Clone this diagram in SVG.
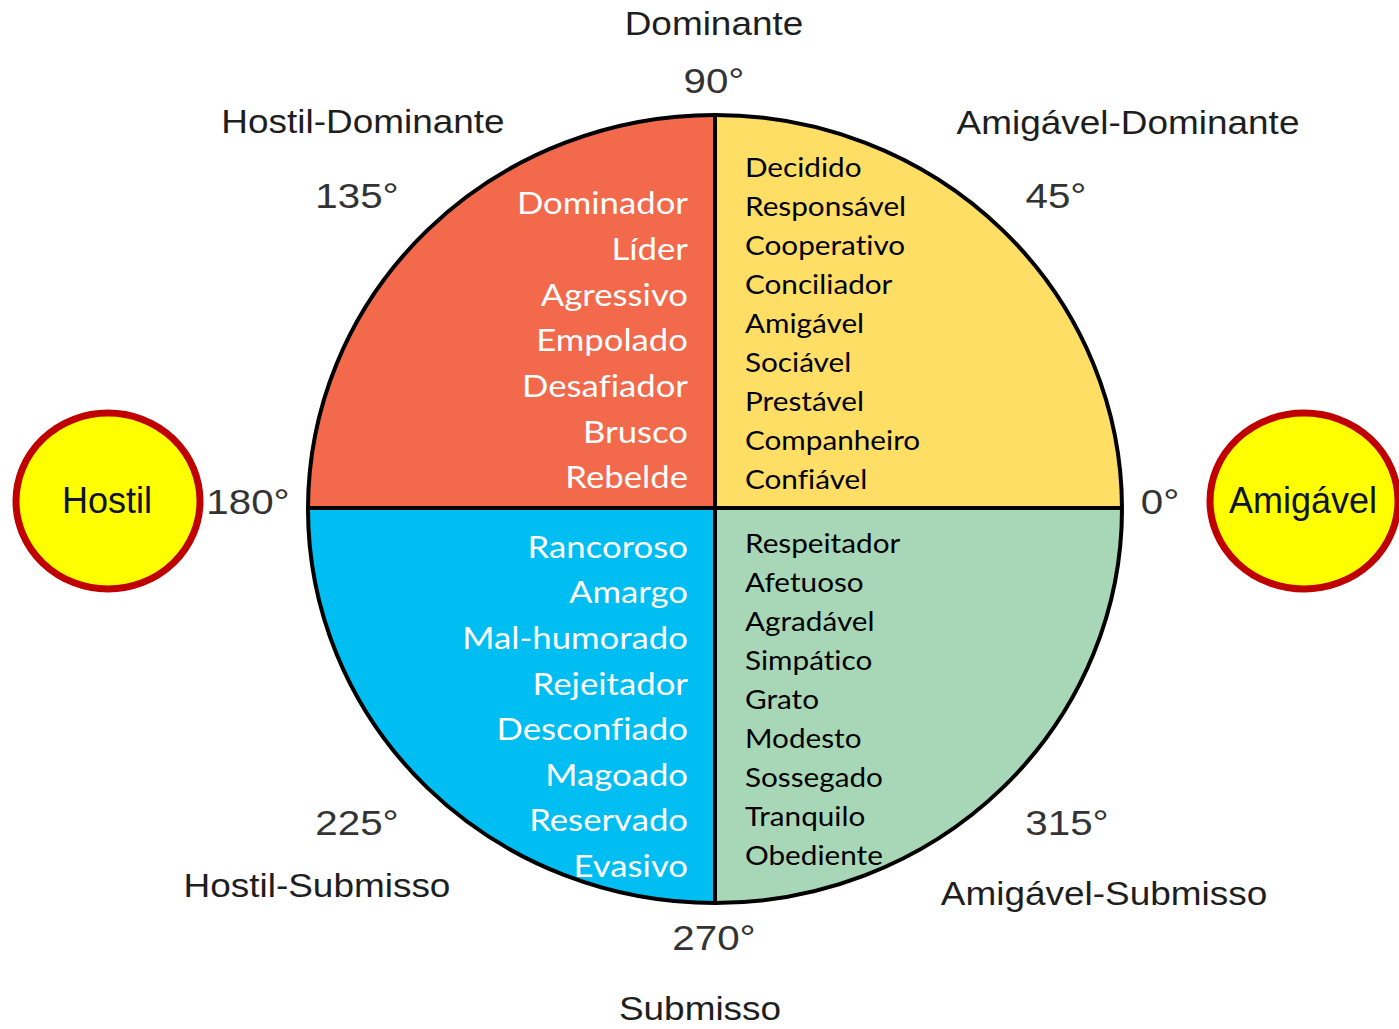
<svg xmlns="http://www.w3.org/2000/svg" width="1399" height="1029" viewBox="0 0 1399 1029">
<style>
.lbl{font-family:"Liberation Sans",Arial,sans-serif;font-size:33px;fill:#1e1e1e;text-anchor:middle}
.deg{font-family:"Liberation Sans",Arial,sans-serif;font-size:36px;fill:#333;text-anchor:middle}
.big{font-family:"Liberation Sans",Arial,sans-serif;font-size:36px;fill:#0f1230;text-anchor:middle}
.w{font-family:Lato,"Open Sans",sans-serif;font-size:31px;fill:#fff;text-anchor:end;font-variant-ligatures:none}
.b{font-family:Lato,"Open Sans",sans-serif;font-size:27px;fill:#000;text-anchor:start;font-variant-ligatures:none}
.edge{stroke:#000;stroke-width:4;fill:none}
.pole{fill:#ffff00;stroke:#c00000;stroke-width:7}
</style>
<rect width="1399" height="1029" fill="#fff"/>
<defs>
<clipPath id="c"><ellipse cx="715" cy="509" rx="407" ry="394"/></clipPath>
</defs>
<g id="wheel">
<g clip-path="url(#c)">
<rect x="300" y="100" width="415" height="409" fill="#f2694b"/>
<rect x="715" y="100" width="420" height="409" fill="#ffde66"/>
<rect x="300" y="509" width="415" height="410" fill="#00bdf2"/>
<rect x="715" y="509" width="420" height="410" fill="#a8d7b7"/>
</g>
</g>
<g id="connectors">
<ellipse class="edge" cx="715" cy="509" rx="407" ry="394"/>
<line class="edge" x1="715" y1="115" x2="715" y2="903"/>
<line class="edge" x1="308" y1="508" x2="1122" y2="508"/>
</g>
<g id="q-hostil-dominante">
<text class="w" transform="translate(688 214) scale(1.12 1)">Dominador</text>
<text class="w" transform="translate(688 260) scale(1.12 1)">Líder</text>
<text class="w" transform="translate(688 306) scale(1.12 1)">Agressivo</text>
<text class="w" transform="translate(688 351) scale(1.12 1)">Empolado</text>
<text class="w" transform="translate(688 397) scale(1.12 1)">Desafiador</text>
<text class="w" transform="translate(688 443) scale(1.12 1)">Brusco</text>
<text class="w" transform="translate(688 488) scale(1.12 1)">Rebelde</text>
</g>
<g id="q-amigavel-dominante">
<text class="b" transform="translate(745 177) scale(1.1 1)">Decidido</text>
<text class="b" transform="translate(745 216) scale(1.1 1)">Responsável</text>
<text class="b" transform="translate(745 255) scale(1.1 1)">Cooperativo</text>
<text class="b" transform="translate(745 294) scale(1.1 1)">Conciliador</text>
<text class="b" transform="translate(745 333) scale(1.1 1)">Amigável</text>
<text class="b" transform="translate(745 372) scale(1.1 1)">Sociável</text>
<text class="b" transform="translate(745 411) scale(1.1 1)">Prestável</text>
<text class="b" transform="translate(745 450) scale(1.1 1)">Companheiro</text>
<text class="b" transform="translate(745 489) scale(1.1 1)">Confiável</text>
</g>
<g id="q-hostil-submisso">
<text class="w" transform="translate(688 558) scale(1.12 1)">Rancoroso</text>
<text class="w" transform="translate(688 603) scale(1.12 1)">Amargo</text>
<text class="w" transform="translate(688 649) scale(1.12 1)">Mal-humorado</text>
<text class="w" transform="translate(688 695) scale(1.12 1)">Rejeitador</text>
<text class="w" transform="translate(688 740) scale(1.12 1)">Desconfiado</text>
<text class="w" transform="translate(688 786) scale(1.12 1)">Magoado</text>
<text class="w" transform="translate(688 831) scale(1.12 1)">Reservado</text>
<text class="w" transform="translate(688 877) scale(1.12 1)">Evasivo</text>
</g>
<g id="q-amigavel-submisso">
<text class="b" transform="translate(745 553) scale(1.1 1)">Respeitador</text>
<text class="b" transform="translate(745 592) scale(1.1 1)">Afetuoso</text>
<text class="b" transform="translate(745 631) scale(1.1 1)">Agradável</text>
<text class="b" transform="translate(745 670) scale(1.1 1)">Simpático</text>
<text class="b" transform="translate(745 709) scale(1.1 1)">Grato</text>
<text class="b" transform="translate(745 748) scale(1.1 1)">Modesto</text>
<text class="b" transform="translate(745 787) scale(1.1 1)">Sossegado</text>
<text class="b" transform="translate(745 826) scale(1.1 1)">Tranquilo</text>
<text class="b" transform="translate(745 865) scale(1.1 1)">Obediente</text>
</g>
<g id="labels">
<text class="lbl" transform="translate(714 35) scale(1.12 1)">Dominante</text>
<text class="deg" transform="translate(714 93) scale(1.12 1)">90°</text>
<text class="lbl" transform="translate(363 133) scale(1.12 1)">Hostil-Dominante</text>
<text class="lbl" transform="translate(1128 134) scale(1.12 1)">Amigável-Dominante</text>
<text class="deg" transform="translate(357 208) scale(1.12 1)">135°</text>
<text class="deg" transform="translate(1056 208) scale(1.12 1)">45°</text>
<text class="deg" transform="translate(248 514) scale(1.12 1)">180°</text>
<text class="deg" transform="translate(1160 514) scale(1.12 1)">0°</text>
<text class="deg" transform="translate(357 835) scale(1.12 1)">225°</text>
<text class="deg" transform="translate(1067 835) scale(1.12 1)">315°</text>
<text class="lbl" transform="translate(317 897) scale(1.12 1)">Hostil-Submisso</text>
<text class="deg" transform="translate(714 950) scale(1.12 1)">270°</text>
<text class="lbl" transform="translate(1104 905) scale(1.12 1)">Amigável-Submisso</text>
<text class="lbl" transform="translate(700 1020) scale(1.12 1)">Submisso</text>
</g>
<g id="hostil">
<ellipse class="pole" cx="108" cy="501" rx="92" ry="88"/>
<text class="big" x="107" y="513">Hostil</text>
</g>
<g id="amigavel">
<ellipse class="pole" cx="1304" cy="501" rx="94" ry="88"/>
<text class="big" x="1303" y="513">Amigável</text>
</g>
</svg>
